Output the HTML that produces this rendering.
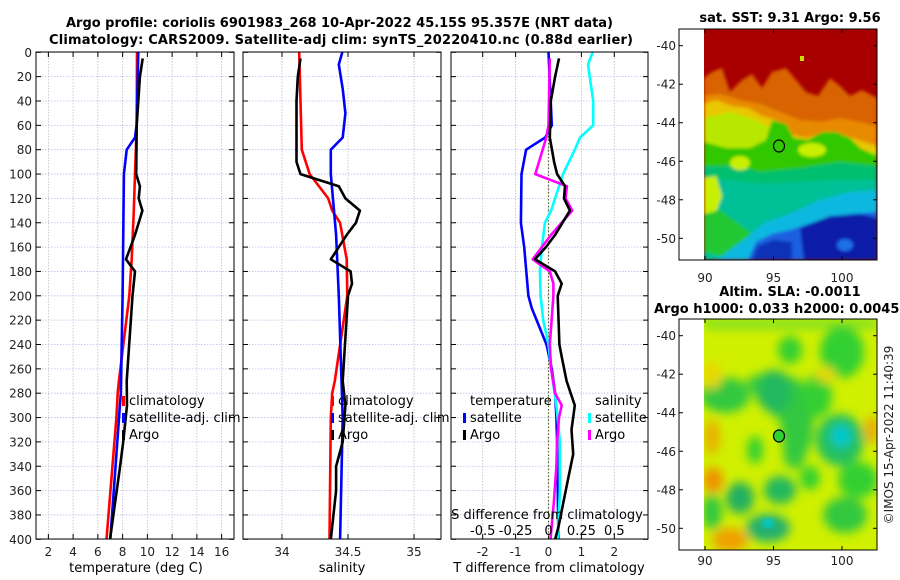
<!DOCTYPE html>
<html><head><meta charset="utf-8">
<style>
html,body{margin:0;padding:0;background:#fff;}
svg{display:block;font-family:"DejaVu Sans","Liberation Sans",sans-serif;}
.tk{font-size:12px;fill:#222;}
.ttl{font-size:13px;font-weight:bold;fill:#000;}
.leg{font-size:13px;fill:#000;}
</style></head><body>
<svg id="fig" width="900" height="580" viewBox="0 0 900 580" xmlns="http://www.w3.org/2000/svg">
<defs>
<clipPath id="clipT"><rect x="36" y="52" width="198" height="487"/></clipPath>
<clipPath id="clipS"><rect x="243" y="52" width="198" height="487"/></clipPath>
<clipPath id="clipD"><rect x="451" y="52" width="197" height="487"/></clipPath>
<clipPath id="clipM1"><rect x="704" y="29" width="173" height="231"/></clipPath>
<clipPath id="clipM2"><rect x="704" y="319" width="173" height="231"/></clipPath>
<filter id="blur2"><feGaussianBlur stdDeviation="1.5"/></filter>
<filter id="blur3"><feGaussianBlur stdDeviation="3"/></filter>
<filter id="blur5"><feGaussianBlur stdDeviation="5"/></filter>
</defs>
<text class="ttl" x="66" y="27" textLength="547">Argo profile: coriolis 6901983_268 10-Apr-2022 45.15S 95.357E (NRT data)</text>
<text class="ttl" x="49" y="44" textLength="584">Climatology: CARS2009. Satellite-adj clim: synTS_20220410.nc (0.88d earlier)</text>
<g id="panels"></g>

<!-- SST map -->
<g>
<g clip-path="url(#clipM1)">
<rect x="704" y="29" width="173" height="231" fill="#a80000"/>
<g filter="url(#blur2)">
<polygon fill="#d86400" points="704,78 712,72 722,68 730,92 742,80 752,74 762,88 772,72 786,68 796,80 806,92 818,96 830,78 840,86 850,96 862,90 877,98 877,260 704,260"/>
<polygon fill="#e88a00" points="704,96 720,94 740,100 760,104 780,112 800,120 820,122 840,118 860,122 877,126 877,260 704,260"/>
<polygon fill="#e8c800" points="704,104 716,100 732,106 748,108 762,116 776,120 790,134 806,138 822,134 840,134 858,140 877,146 877,260 704,260"/>
<polygon fill="#b8e800" points="704,118 730,112 756,120 770,128 780,136 800,144 860,150 877,152 877,260 704,260"/>
<polygon fill="#30c800" points="704,142 726,148 750,148 766,140 772,120 786,124 794,138 808,140 822,132 836,132 850,138 860,148 877,156 877,260 704,260"/>
<polygon fill="#00c070" points="704,166 740,166 760,172 800,168 840,162 877,166 877,260 704,260"/>
<polygon fill="#00c098" points="704,178 730,180 760,184 800,182 840,180 877,180 877,260 704,260"/>
<ellipse cx="740" cy="163" rx="10" ry="7" fill="#c8f000"/>
<ellipse cx="812" cy="150" rx="14" ry="7" fill="#c8f000"/>
<polygon fill="#c8f000" points="704,178 716,176 722,196 716,212 704,214"/>
<polygon fill="#20c830" points="704,214 720,210 736,222 750,232 746,252 720,256 704,252"/>
<polygon fill="#10b8e0" points="716,260 746,238 766,222 790,214 820,200 850,192 877,190 877,260"/>
<polygon fill="#1a5ee0" points="748,260 756,242 772,234 790,230 820,220 850,214 877,212 877,260"/>
<polygon fill="#0a1ea8" points="800,228 830,216 860,214 877,218 877,260 804,260"/>
<polygon fill="#0c30b8" points="752,260 758,246 774,240 792,242 792,260"/>
<ellipse cx="845" cy="245" rx="8" ry="6" fill="#1a70e8"/>
</g>
<rect x="800" y="56" width="4" height="5" fill="#c8e000"/>
</g>
<rect x="679" y="29" width="198" height="231" fill="none" stroke="#000" stroke-width="1"/>
<ellipse cx="779" cy="146" rx="5.5" ry="6" fill="none" stroke="#000" stroke-width="1.2"/>
<text class="ttl" x="790" y="22" text-anchor="middle">sat. SST: 9.31  Argo: 9.56</text>
</g>

<!-- SLA map -->
<g>
<g clip-path="url(#clipM2)">
<rect x="704" y="319" width="173" height="231" fill="#d0f000"/>
<g filter="url(#blur5)">
<rect x="704" y="319" width="173" height="10" fill="#80e020"/>
<ellipse cx="790" cy="350" rx="12" ry="14" fill="#30d030"/>
<ellipse cx="842" cy="352" rx="22" ry="26" fill="#30d030"/>
<ellipse cx="725" cy="395" rx="25" ry="18" fill="#30c840"/>
<polygon fill="#30c840" points="745,380 770,370 800,380 815,400 812,440 800,470 785,465 780,420 760,405"/>
<ellipse cx="775" cy="392" rx="16" ry="22" fill="#20b860"/>
<ellipse cx="818" cy="395" rx="14" ry="22" fill="#30d030"/>
<ellipse cx="840" cy="440" rx="24" ry="26" fill="#20c060"/>
<ellipse cx="841" cy="436" rx="10" ry="11" fill="#00c8d0"/>
<ellipse cx="858" cy="480" rx="20" ry="18" fill="#30d030"/>
<ellipse cx="755" cy="450" rx="8" ry="14" fill="#30d030"/>
<ellipse cx="780" cy="490" rx="16" ry="14" fill="#20b860"/>
<ellipse cx="810" cy="478" rx="10" ry="12" fill="#30d030"/>
<ellipse cx="740" cy="498" rx="14" ry="16" fill="#20b060"/>
<ellipse cx="768" cy="528" rx="22" ry="14" fill="#20b070"/>
<ellipse cx="845" cy="515" rx="22" ry="18" fill="#30c840"/>
<ellipse cx="712" cy="512" rx="10" ry="18" fill="#30c840"/>
<ellipse cx="712" cy="375" rx="10" ry="14" fill="#e8d800"/>
<ellipse cx="712" cy="437" rx="8" ry="18" fill="#e8b000"/>
<ellipse cx="713" cy="480" rx="10" ry="13" fill="#f09000"/>
<ellipse cx="730" cy="540" rx="18" ry="12" fill="#f0a000"/>
<ellipse cx="872" cy="430" rx="8" ry="14" fill="#e8b000"/>
<ellipse cx="826" cy="375" rx="10" ry="8" fill="#e8d800"/>
</g>
<ellipse cx="768" cy="523" rx="6" ry="5" fill="#00c8d0" filter="url(#blur3)"/>
</g>
<rect x="679" y="319" width="198" height="231" fill="none" stroke="#000" stroke-width="1"/>
<ellipse cx="779" cy="436" rx="5.5" ry="6" fill="#30d030" stroke="#000" stroke-width="1.2"/>
<text class="ttl" x="790" y="296" text-anchor="middle">Altim. SLA: -0.0011</text>
<text class="ttl" x="654" y="313">Argo h1000: 0.033 h2000: 0.0045</text>
<text class="tk" transform="translate(893,435) rotate(-90)" text-anchor="middle" font-size="13">©IMOS 15-Apr-2022 11:40:39</text>
</g>
<g id="mapaxes"></g>
</svg>
<script>
// ---- data ----
const climTDepth = [0, 60, 100, 130, 170, 200, 270, 280, 300, 400];
const climT      = [9.16, 9.14, 9.0, 8.9, 8.73, 8.54, 7.7, 7.6, 7.5, 6.7];
const satTDepth  = [0, 60, 70, 80, 100, 200, 280, 400];
const satT       = [9.27, 9.13, 9.0, 8.33, 8.1, 8.0, 7.85, 7.0];
const argoTDepth = [5, 20, 60, 100, 110, 120, 130, 150, 170, 180, 200, 270, 290, 320, 340, 400];
const argoT      = [9.62, 9.4, 9.14, 9.1, 9.4, 9.3, 9.6, 9.0, 8.27, 9.0, 8.8, 8.33, 8.35, 8.05, 7.8, 6.98];

const climSDepth = [0, 80, 100, 120, 130, 140, 170, 200, 270, 280, 300, 400];
const climS      = [34.13, 34.15, 34.21, 34.35, 34.38, 34.44, 34.49, 34.495, 34.40, 34.38, 34.37, 34.36];
const satSDepth  = [0, 10, 30, 50, 70, 80, 100, 150, 200, 300, 400];
const satS       = [34.457, 34.43, 34.46, 34.48, 34.46, 34.37, 34.37, 34.41, 34.43, 34.46, 34.44];
const argoSDepth = [5, 20, 40, 90, 100, 110, 120, 130, 140, 150, 160, 170, 180, 190, 200, 270, 290, 320, 340, 360, 400];
const argoS      = [34.14, 34.12, 34.11, 34.11, 34.14, 34.43, 34.48, 34.59, 34.56, 34.49, 34.43, 34.37, 34.52, 34.53, 34.50, 34.46, 34.48, 34.46, 34.41, 34.41, 34.37];

const dSatTDepth  = [0, 60, 70, 80, 100, 140, 160, 200, 210, 240, 260, 280, 300, 320, 400];
const dSatT       = [0, 0.1, -0.1, -0.68, -0.82, -0.84, -0.74, -0.61, -0.51, -0.06, 0.1, 0.2, 0.24, 0.26, 0.3];
const dArgoTDepth = [5, 20, 40, 70, 90, 100, 110, 120, 130, 150, 160, 170, 180, 190, 200, 240, 250, 270, 290, 310, 330, 350, 370, 390, 400];
const dArgoT      = [0.32, 0.2, 0.07, 0.04, 0.17, 0.26, 0.5, 0.47, 0.65, 0.2, -0.08, -0.41, 0.2, 0.4, 0.28, 0.33, 0.4, 0.55, 0.8, 0.7, 0.75, 0.6, 0.45, 0.3, 0.2];
const dSatSDepth  = [0, 10, 40, 60, 70, 80, 100, 130, 140, 160, 180, 200, 220, 240, 260, 290, 320, 360, 400];
const dSatS       = [0.336, 0.30, 0.34, 0.34, 0.24, 0.2, 0.11, 0.02, -0.027, -0.05, -0.065, -0.06, -0.04, 0, 0.02, 0.06, 0.087, 0.087, 0.07];
const dArgoSDepth = [5, 60, 70, 100, 110, 120, 130, 150, 170, 180, 190, 200, 240, 260, 280, 290, 300, 320, 340, 370, 400];
const dArgoS      = [0.01, 0, -0.017, -0.1, 0.14, 0.13, 0.18, 0.02, -0.12, 0.01, 0.037, 0.037, 0.01, 0.02, 0.05, 0.1, 0.08, 0.065, 0.06, 0.04, 0.015];

const depthTicks = [0,20,40,60,80,100,120,140,160,180,200,220,240,260,280,300,320,340,360,380,400];
const tempTicks = [2,4,6,8,10,12,14,16];
const salTicks = [34, 34.5, 35];
const salTickLabels = ['34','34.5','35'];
const dTTicks = [-2,-1,0,1,2];
const dSTicks = [-0.5,-0.25,0,0.25,0.5];
const dSTickLabels = ['-0.5','-0.25','0','0.25','0.5'];
const latTicks = [-40,-42,-44,-46,-48,-50];
const lonTicks = [90,95,100];

// ---- scales ----
const yD = d => 52.3 + d * 1.2175;
const xT = t => 36 + (t - 1) * 12.375;
const xS = s => 282 + (s - 34) * 132;
const xDT = t => 548.5 + t * 32.9;
const xDS = s => 548.5 + s * 131.6;
const lonX = lo => 705 + (lo - 90) * 13.7;
const latY1 = la => 45.7 + (-40 - la) * 19.26;
const latY2 = la => 335.7 + (-40 - la) * 19.26;

const NS = 'http://www.w3.org/2000/svg';
const root = document.getElementById('panels');
function mk(tag, attrs, parent) {
  const e = document.createElementNS(NS, tag);
  for (const k in attrs) e.setAttribute(k, attrs[k]);
  (parent || root).appendChild(e);
  return e;
}
function panel(name, x0, x1, ticks, labels, xf, clip, showY) {
  const g = mk('g', {});
  
  
  depthTicks.forEach(d => {
    const y = yD(d);
    const gl = mk('line', {x1: x0, x2: x1, y1: y, y2: y, stroke: '#b4c0ea', 'stroke-width': 0.8, 'stroke-dasharray': '1.5,1.5'}, g);
    
    
    mk('line', {x1: x0, x2: x0 + 5, y1: y, y2: y, stroke: '#000', 'stroke-width': 1}, g);
    mk('line', {x1: x1 - 5, x2: x1, y1: y, y2: y, stroke: '#000', 'stroke-width': 1}, g);
    if (showY) {
      const t = mk('text', {x: x0 - 4, y: y + 4.5, 'text-anchor': 'end', class: 'tk'}, g);
      
      
      t.textContent = d;
    }
  });
  ticks.forEach((v, i) => {
    const x = xf(v);
    const gl = mk('line', {x1: x, x2: x, y1: 52, y2: 539, stroke: '#c8b8c8', 'stroke-width': 0.8, 'stroke-dasharray': '1.5,1.5'}, g);
    
    
    mk('line', {x1: x, x2: x, y1: 539, y2: 534, stroke: '#000'}, g);
    mk('line', {x1: x, x2: x, y1: 52, y2: 57, stroke: '#000'}, g);
    const t = mk('text', {x: x, y: 556, 'text-anchor': 'middle', class: 'tk'}, g);
    
    
    t.textContent = labels[i];
  });
  return g;
}
function series(name, depths, vals, xf, color, clip) {
  const pts = depths.map((d, i) => xf(vals[i]).toFixed(1) + ',' + yD(d).toFixed(1)).join(' ');
  const p = mk('polyline', {points: pts, fill: 'none', stroke: color, 'stroke-width': 2.6, 'stroke-linejoin': 'round', 'clip-path': 'url(#' + clip + ')'});
  
  
}
function frame(x0, x1) {
  mk('rect', {x: x0, y: 52, width: x1 - x0, height: 487, fill: 'none', stroke: '#000', 'stroke-width': 1});
}
function legendEntry(name, x, y, color, label) {
  const r = mk('rect', {x: x, y: y - 9, width: 3, height: 10, fill: color});
  
  
  const t = mk('text', {x: x + 7, y: y, class: 'leg'});
  
  
  t.textContent = label;
}
function label(name, x, y, txt, anchor) {
  const t = mk('text', {x: x, y: y, 'text-anchor': anchor || 'middle', class: 'leg'});
  
  
  t.textContent = txt;
  return t;
}

// temperature panel
panel('temperature-panel', 36, 234, tempTicks, tempTicks.map(String), xT, 'clipT', true);
series('temperature-climatology-line', climTDepth, climT, xT, '#ff0000', 'clipT');
series('temperature-satellite-line', satTDepth, satT, xT, '#0000ff', 'clipT');
series('temperature-argo-line', argoTDepth, argoT, xT, '#000000', 'clipT');
frame(36, 234);
label('temperature-axis-title', 136, 572, 'temperature (deg C)');
legendEntry('legend-climatology', 122, 405, '#ff0000', 'climatology');
legendEntry('legend-satellite-adj-clim', 122, 422, '#0000ff', 'satellite-adj. clim');
legendEntry('legend-argo', 122, 439, '#000000', 'Argo');

// salinity panel
panel('salinity-panel', 243, 441, salTicks, salTickLabels, xS, 'clipS', false);
series('salinity-climatology-line', climSDepth, climS, xS, '#ff0000', 'clipS');
series('salinity-satellite-line', satSDepth, satS, xS, '#0000ff', 'clipS');
series('salinity-argo-line', argoSDepth, argoS, xS, '#000000', 'clipS');
frame(243, 441);
label('salinity-axis-title', 342, 572, 'salinity');
legendEntry('legend-s-climatology', 331, 405, '#ff0000', 'climatology');
legendEntry('legend-s-satellite-adj-clim', 331, 422, '#0000ff', 'satellite-adj. clim');
legendEntry('legend-s-argo', 331, 439, '#000000', 'Argo');

// difference panel
panel('difference-panel', 451, 648, dTTicks, dTTicks.map(String), xDT, 'clipD', false);
const zl = mk('line', {x1: xDT(0), x2: xDT(0), y1: 52, y2: 539, stroke: '#556b2f', 'stroke-width': 1.2, 'stroke-dasharray': '1.5,2'});


series('temp-diff-satellite-line', dSatTDepth, dSatT, xDT, '#0000ff', 'clipD');
series('sal-diff-satellite-line', dSatSDepth, dSatS, xDS, '#00ffff', 'clipD');
series('sal-diff-argo-line', dArgoSDepth, dArgoS, xDS, '#ff00ff', 'clipD');
series('temp-diff-argo-line', dArgoTDepth, dArgoT, xDT, '#000000', 'clipD');
frame(451, 648);
label('t-difference-axis-title', 549, 572, 'T difference from climatology');
label('s-difference-axis-title', 547, 519, 'S difference from climatology');
dSTicks.forEach((v, i) => {
  label('s-difference-tick-label', xDS(v), 535, dSTickLabels[i]);
});
label('legend-temperature-heading', 470, 405, 'temperature', 'start');
legendEntry('legend-temp-satellite', 463, 422, '#0000ff', 'satellite');
legendEntry('legend-temp-argo', 463, 439, '#000000', 'Argo');
label('legend-salinity-heading', 595, 405, 'salinity', 'start');
legendEntry('legend-sal-satellite', 588, 422, '#00ffff', 'satellite');
legendEntry('legend-sal-argo', 588, 439, '#ff00ff', 'Argo');

// map axes
const ma = document.getElementById('mapaxes');
[[latY1, 29, 260, 282], [latY2, 319, 550, 565]].forEach(([ly, top, bot, lonLabY]) => {
  latTicks.forEach(la => {
    const y = ly(la);
    mk('line', {x1: 679, x2: 683, y1: y, y2: y, stroke: '#000'}, ma);
    mk('line', {x1: 873, x2: 877, y1: y, y2: y, stroke: '#000'}, ma);
    const t = mk('text', {x: 676, y: y + 4.5, 'text-anchor': 'end', class: 'tk'}, ma);
    
    
    t.textContent = la;
  });
  lonTicks.forEach(lo => {
    const x = lonX(lo);
    mk('line', {x1: x, x2: x, y1: bot, y2: bot - 4, stroke: '#000'}, ma);
    mk('line', {x1: x, x2: x, y1: top, y2: top + 4, stroke: '#000'}, ma);
    const t = mk('text', {x: x, y: lonLabY, 'text-anchor': 'middle', class: 'tk'}, ma);
    
    
    t.textContent = lo;
  });
});
</script>
</body></html>
